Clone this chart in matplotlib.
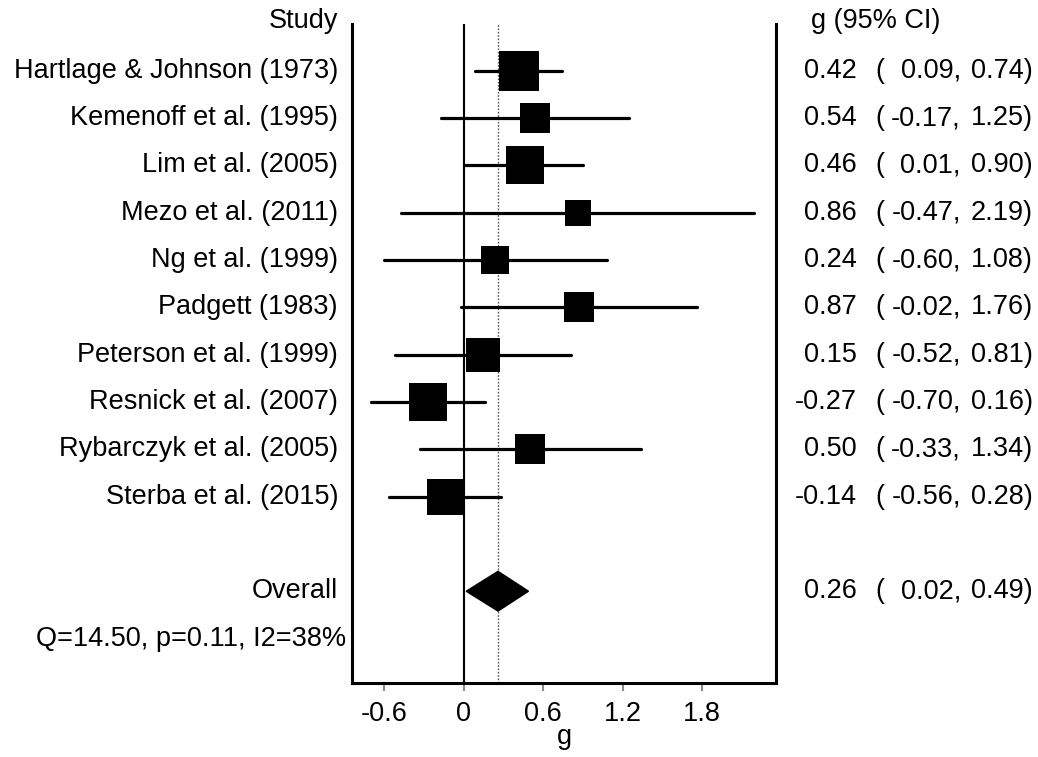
import numpy as np
import matplotlib
matplotlib.use("Agg")
import matplotlib.pyplot as plt
from matplotlib.patches import Polygon

plt.rcParams['font.family'] = ['Liberation Sans', 'DejaVu Sans']

# study data
studies = ["Hartlage & Johnson (1973)", "Kemenoff et al. (1995)", "Lim et al. (2005)",
           "Mezo et al. (2011)", "Ng et al. (1999)", "Padgett (1983)",
           "Peterson et al. (1999)", "Resnick et al. (2007)", "Rybarczyk et al. (2005)",
           "Sterba et al. (2015)"]
g = [0.42, 0.54, 0.46, 0.86, 0.24, 0.87, 0.15, -0.27, 0.50, -0.14]
lo = [0.09, -0.17, 0.01, -0.47, -0.60, -0.02, -0.52, -0.70, -0.33, -0.56]
hi = [0.74, 1.25, 0.90, 2.19, 1.08, 1.76, 0.81, 0.16, 1.34, 0.28]
weights = [14.9, 7.9, 12.8, 6.3, 7.3, 7.9, 10.2, 12.8, 7.9, 12.1]  # % weight (box area)

overall_g, overall_lo, overall_hi = 0.26, 0.02, 0.49
het_text = "Q=14.50, p=0.11, I2=38%"
xticks = [-0.6, 0, 0.6, 1.2, 1.8]

fig = plt.figure(figsize=(10.38, 7.57), dpi=100)
ax = fig.add_axes([352/1038, 1-683/757, 424/1038, 659/757])

n = len(studies)
rows = np.arange(n)
ov_row = n + 1

ax.axvline(0, color='black', lw=1.5, zorder=1)
ax.axvline(overall_g, color='#555555', lw=1.0, ls=(0, (1.2, 1.2)), zorder=1)

for i in range(n):
    ax.plot([lo[i], hi[i]], [rows[i], rows[i]], color='black', lw=2.3,
            solid_capstyle='round', zorder=2)
    side = np.sqrt(weights[i]) * 10.35 * 0.72
    ax.plot(g[i], rows[i], marker='s', ms=side, color='black', mew=0, zorder=3)

h = 0.42
ax.add_patch(Polygon([[overall_lo, ov_row], [overall_g, ov_row - h],
                      [overall_hi, ov_row], [overall_g, ov_row + h]],
                     closed=True, color='black', zorder=3))

ax.set_xlim(-0.842, 2.358)
ax.set_ylim(12.94, -0.99)

ax.spines['top'].set_visible(False)
for s in ['left', 'right', 'bottom']:
    ax.spines[s].set_linewidth(2.2)
ax.set_yticks([])
ax.set_xticks(xticks)
ax.set_xticklabels(["-0.6", "0", "0.6", "1.2", "1.8"])
ax.tick_params(axis='x', direction='out', length=6, width=1.5, color='#888888',
               labelsize=19.5, pad=7)
ax.set_xlabel("g", fontsize=19.5, labelpad=-2)

tr = ax.get_yaxis_transform()
def ax_x(px):
    return (px - 352) / 424

fs = 19.5
kw = dict(va='center', fontsize=fs, transform=tr, clip_on=False)

def ci_cols(row, est, low, high):
    ax.text(ax_x(857), row, f"{est:.2f}", ha='right', **kw)
    ax.text(ax_x(875), row, "(", ha='left', **kw)
    ax.text(ax_x(961), row, f"{low:.2f},", ha='right', **kw)
    ax.text(ax_x(1033), row, f"{high:.2f})", ha='right', **kw)

ax.text(ax_x(338), -1.05, "Study", ha='right', **kw)
ax.text(ax_x(811), -1.05, "g (95% CI)", ha='left', **kw)
for i in range(n):
    ax.text(ax_x(338), rows[i], studies[i], ha='right', **kw)
    ci_cols(rows[i], g[i], lo[i], hi[i])

ax.text(ax_x(338), ov_row, "Overall", ha='right', **kw)
ci_cols(ov_row, overall_g, overall_lo, overall_hi)
ax.text(ax_x(346), ov_row + 1, het_text, ha='right', **kw)

fig.savefig("out.png", dpi=100)
